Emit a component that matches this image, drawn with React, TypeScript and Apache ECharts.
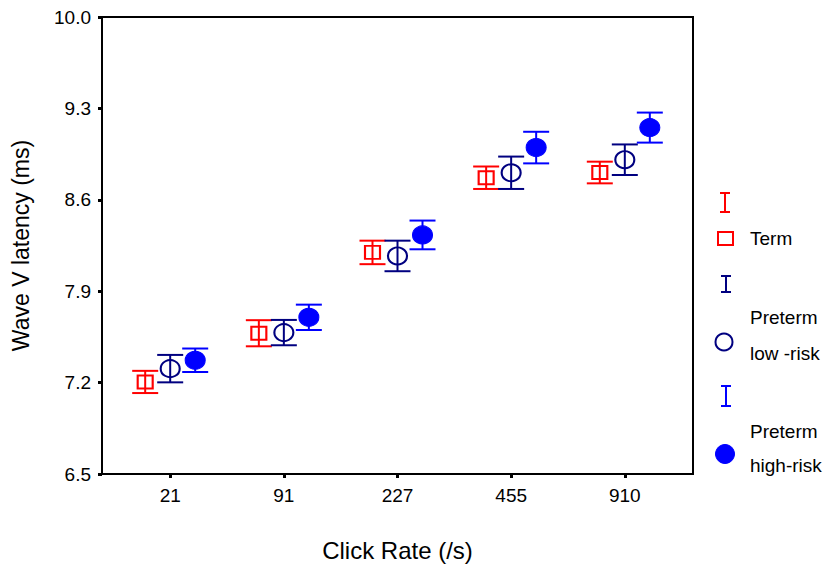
import React, { useEffect, useRef } from "react";
import * as echarts from "echarts";

const categories = ["21", "91", "227", "455", "910"];
const termMean = [7.205, 7.578, 8.197, 8.769, 8.809];
const termErr = [0.085, 0.1, 0.09, 0.086, 0.083];
const lowMean = [7.307, 7.583, 8.17, 8.807, 8.907];
const lowErr = [0.105, 0.097, 0.117, 0.124, 0.117];
const highMean = [7.371, 7.7, 8.331, 9.0, 9.153];
const highErr = [0.09, 0.097, 0.11, 0.121, 0.115];
const yTicks = [6.5, 7.2, 7.9, 8.6, 9.3, 10.0];
const xTicks = [1, 2, 3, 4, 5];

const RED = "#ff0000";
const NAVY = "#000080";
const BLUE = "#0000ff";
const FONT = "Liberation Sans, Arial, sans-serif";

function errSeries(mean: number[], err: number[], offset: number, color: string) {
  return {
    type: "custom",
    data: mean.map((m, i) => [i + 1 + offset, m - err[i], m + err[i]]),
    encode: { x: 0, y: [1, 2] },
    z: 2,
    renderItem: (params: any, api: any) => {
      const x = api.value(0);
      const lo = api.coord([x, api.value(1)]);
      const hi = api.coord([x, api.value(2)]);
      const hw = 13;
      const style = { stroke: color, lineWidth: 2 };
      return {
        type: "group",
        children: [
          { type: "line", shape: { x1: lo[0], y1: lo[1], x2: hi[0], y2: hi[1] }, style },
          { type: "line", shape: { x1: hi[0] - hw, y1: hi[1], x2: hi[0] + hw, y2: hi[1] }, style },
          { type: "line", shape: { x1: lo[0] - hw, y1: lo[1], x2: lo[0] + hw, y2: lo[1] }, style },
        ],
      };
    },
  };
}

function markSeries(mean: number[], offset: number, symbol: string, size: number[], color: string, filled: boolean) {
  return {
    type: "scatter",
    data: mean.map((m, i) => [i + 1 + offset, m]),
    symbol,
    symbolSize: size,
    z: 3,
    itemStyle: filled
      ? { color, borderColor: color, borderWidth: 1, opacity: 1 }
      : { color: "rgba(0,0,0,0)", borderColor: color, borderWidth: 2, opacity: 1 },
  };
}

function ibeam(x: number, y1: number, y2: number, color: string) {
  const style = { stroke: color, lineWidth: 2 };
  return [
    { type: "line", shape: { x1: x, y1, x2: x, y2 }, style },
    { type: "line", shape: { x1: x - 5, y1, x2: x + 5, y2: y1 }, style },
    { type: "line", shape: { x1: x - 5, y1: y2, x2: x + 5, y2 }, style },
  ];
}

function legendText(text: string, y: number) {
  return {
    type: "text",
    x: 750,
    y,
    style: { text, fill: "#000", font: `19px ${FONT}`, verticalAlign: "middle", align: "left" },
  };
}

export default function App() {
  const ref = useRef<HTMLDivElement>(null);
  useEffect(() => {
    document.body.style.margin = "0";
    const chart = echarts.init(ref.current!, null, { renderer: "svg" });
    chart.setOption({
      animation: false,
      backgroundColor: "#fff",
      grid: {
        left: 102,
        right: 132,
        top: 17,
        bottom: 90,
        show: true,
        borderColor: "#000",
        borderWidth: 2,
        outerBoundsMode: "none",
      },
      xAxis: {
        type: "value",
        min: 0.4,
        max: 5.6,
        name: "Click Rate (/s)",
        nameLocation: "middle",
        nameGap: 64,
        nameTextStyle: { fontFamily: FONT, fontSize: 24, color: "#000" },
        splitLine: { show: false },
        axisLine: { lineStyle: { color: "#000", width: 2 } },
        axisTick: { customValues: xTicks, length: 4, lineStyle: { color: "#000", width: 3 } },
        axisLabel: {
          customValues: xTicks,
          margin: 12,
          fontFamily: FONT,
          fontSize: 19,
          color: "#000",
          formatter: (v: number) => categories[Math.round(v) - 1] ?? "",
        },
      },
      yAxis: {
        type: "value",
        min: 6.5,
        max: 10.0,
        name: "Wave V latency (ms)",
        nameLocation: "middle",
        nameGap: 70,
        nameTextStyle: { fontFamily: FONT, fontSize: 23, color: "#000" },
        splitLine: { show: false },
        axisLine: { lineStyle: { color: "#000", width: 2 } },
        axisTick: { customValues: yTicks, length: 4, lineStyle: { color: "#000", width: 3 } },
        axisLabel: {
          customValues: yTicks,
          margin: 11,
          fontFamily: FONT,
          fontSize: 19,
          color: "#000",
          formatter: (v: number) => v.toFixed(1),
        },
      },
      series: [
        errSeries(termMean, termErr, -0.22, RED),
        errSeries(lowMean, lowErr, 0, NAVY),
        errSeries(highMean, highErr, 0.22, BLUE),
        markSeries(termMean, -0.22, "rect", [15, 13], RED, false),
        markSeries(lowMean, 0, "circle", [19, 17], NAVY, false),
        markSeries(highMean, 0.22, "circle", [20, 18], BLUE, true),
      ],
      graphic: [
        ...ibeam(725, 193, 212, RED),
        {
          type: "rect",
          shape: { x: 718, y: 232, width: 15, height: 13 },
          style: { fill: "rgba(0,0,0,0)", stroke: RED, lineWidth: 2 },
        },
        legendText("Term", 238),
        ...ibeam(726, 276, 292, NAVY),
        legendText("Preterm", 317),
        {
          type: "circle",
          shape: { cx: 724, cy: 342, r: 8.5 },
          style: { fill: "rgba(0,0,0,0)", stroke: NAVY, lineWidth: 2 },
        },
        legendText("low -risk", 353),
        ...ibeam(726, 386, 406, BLUE),
        legendText("Preterm", 431),
        {
          type: "circle",
          shape: { cx: 725, cy: 454, r: 9.5 },
          style: { fill: BLUE, stroke: BLUE, lineWidth: 1 },
        },
        legendText("high-risk", 465),
      ],
    });
    return () => chart.dispose();
  }, []);
  return <div ref={ref} style={{ width: 825, height: 564 }} />;
}
